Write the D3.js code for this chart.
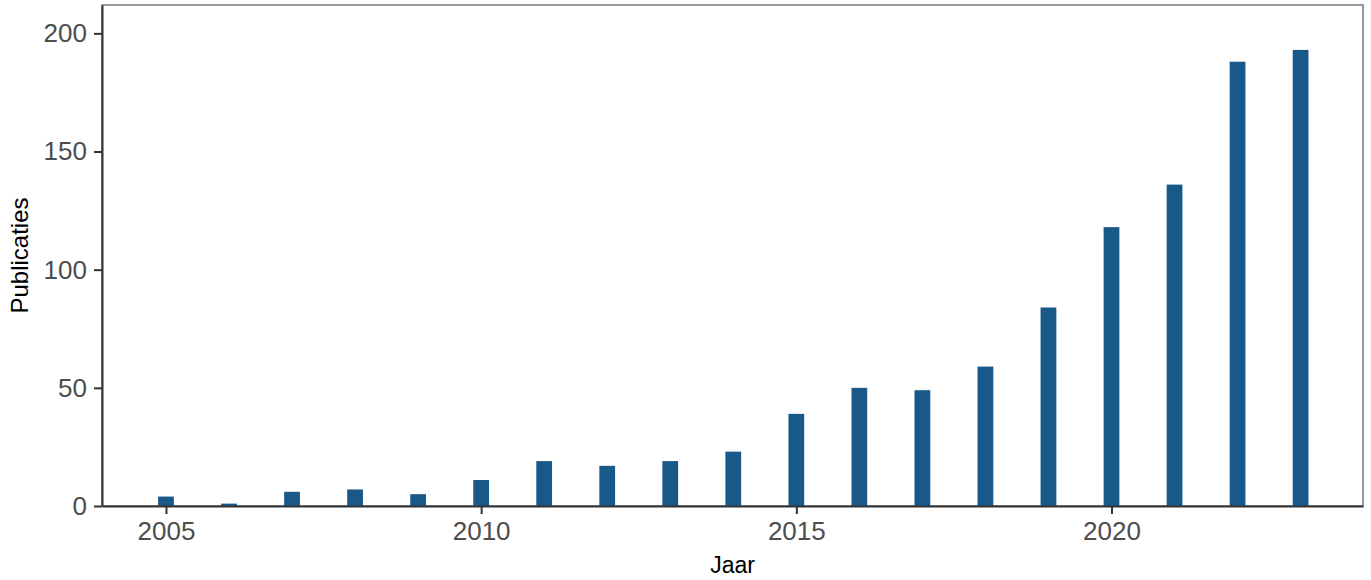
<!DOCTYPE html>
<html><head><meta charset="utf-8">
<script src="https://cdn.jsdelivr.net/npm/d3@7"></script>
<style>body{margin:0;background:#fff;} text{font-family:"Liberation Sans",Arial,sans-serif;}</style>
</head><body>
<svg id="c" width="1371" height="580"></svg>
<script>
const years = [2005,2006,2007,2008,2009,2010,2011,2012,2013,2014,2015,2016,2017,2018,2019,2020,2021,2022,2023];
const counts = [4,1,6,7,5,11,19,17,19,23,39,50,49,59,84,118,136,188,193];
const xTicks = [2005,2010,2015,2020];
const yTicks = [0,50,100,150,200];

const svg = d3.select("#c");
const L = 102, R = 1363, T = 5, B = 506;
const x = d3.scaleLinear().domain([2003.985, 2023.99]).range([L, R]);
const y = d3.scaleLinear().domain([0, 212]).range([B, T]);
const bw = x(2005.125) - x(2004.875);

svg.append("rect").attr("x", L).attr("y", T).attr("width", R-L).attr("height", B-T)
  .attr("fill", "none").attr("stroke", "#555").attr("stroke-width", 1.2);

svg.append("g").selectAll("rect").data(years).join("rect")
  .attr("x", (d) => x(d) - bw/2)
  .attr("y", (d,i) => y(counts[i]))
  .attr("width", bw)
  .attr("height", (d,i) => B - y(counts[i]))
  .attr("fill", "#19598a");

const gx = svg.append("g").attr("transform", `translate(0,${B})`)
  .call(d3.axisBottom(x).tickValues(xTicks).tickFormat(d3.format("d")).tickSizeInner(8).tickSizeOuter(0).tickPadding(8));
const gy = svg.append("g").attr("transform", `translate(${L},0)`)
  .call(d3.axisLeft(y).tickValues(yTicks).tickSizeInner(8).tickSizeOuter(0).tickPadding(7));
[gx, gy].forEach(g => {
  g.select(".domain").attr("stroke", "#333").attr("stroke-width", 2);
  g.selectAll(".tick line").attr("stroke", "#333").attr("stroke-width", 2);
  g.selectAll(".tick text").attr("fill", "#4d4d4d").style("font-size", "26px")
   .style("font-family", '"Liberation Sans",Arial,sans-serif');
});

svg.append("text").attr("x", (L+R)/2).attr("y", 573).attr("text-anchor", "middle")
  .style("font-size", "23px").attr("fill", "#000").text("Jaar");
svg.append("text").attr("transform", `translate(28,${(T+B)/2 + 0}) rotate(-90)`).attr("text-anchor", "middle")
  .style("font-size", "24px").attr("fill", "#000").text("Publicaties");
</script>
</body></html>
